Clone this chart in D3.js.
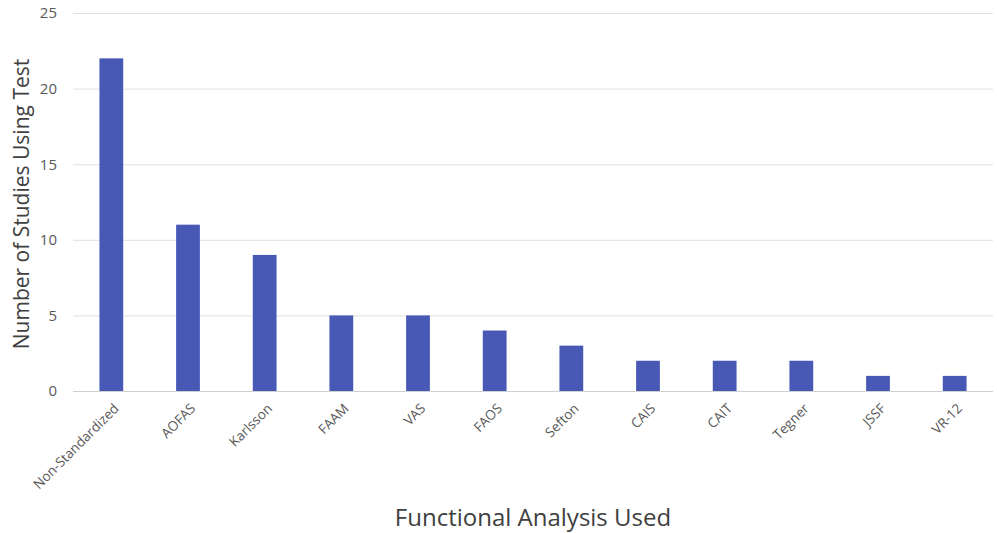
<!DOCTYPE html>
<html>
<head>
<meta charset="utf-8">
<script src="https://cdn.jsdelivr.net/npm/d3@7"></script>
<style>
  html, body { margin: 0; padding: 0; background: #fff; }
  svg { display: block; }
  svg text { font-family: "Open Sans", "Liberation Sans", sans-serif; }
</style>
</head>
<body>
<svg id="chart" width="997" height="533"></svg>
<script>
// Functional outcome measures and how many studies used each
const categories = ["Non-Standardized", "AOFAS", "Karlsson", "FAAM", "VAS", "FAOS", "Sefton", "CAIS", "CAIT", "Tegner", "JSSF", "VR-12"];
const studyCounts = [22, 11, 9, 5, 5, 4, 3, 2, 2, 2, 1, 1];
const yTicks = [0, 5, 10, 15, 20, 25];

const svg = d3.select("#chart");
const margin = { left: 73, right: 4, top: 13, bottom: 142 };
const W = 997, H = 533;
const FONT = '"Open Sans", "Liberation Sans", sans-serif';

const x = d3.scaleBand()
  .domain(categories)
  .range([margin.left, W - margin.right])
  .paddingInner(0.69)
  .paddingOuter(0.345);

const y = d3.scaleLinear()
  .domain([0, 25])
  .range([H - margin.bottom, margin.top]);

// Horizontal gridlines
svg.append("g")
  .selectAll("line")
  .data(yTicks)
  .join("line")
  .attr("x1", margin.left)
  .attr("x2", W - margin.right)
  .attr("y1", d => y(d) + 0.5)
  .attr("y2", d => y(d) + 0.5)
  .attr("stroke", d => d === 0 ? "#d0d0d0" : "#e0e0e0")
  .attr("stroke-width", 1);

// Y axis tick labels
const yAxis = svg.append("g")
  .attr("transform", `translate(${margin.left - 16},0)`)
  .call(d3.axisLeft(y).tickValues(yTicks).tickSize(0).tickPadding(0))
  .attr("font-family", FONT);
yAxis.select(".domain").remove();
yAxis.selectAll("text")
  .attr("fill", "#595959")
  .style("font-size", "15px");

// Bars
svg.append("g")
  .selectAll("rect")
  .data(categories)
  .join("rect")
  .attr("x", d => x(d))
  .attr("width", x.bandwidth())
  .attr("y", (d, i) => y(studyCounts[i]))
  .attr("height", (d, i) => y(0) - y(studyCounts[i]))
  .attr("fill", "#4858b5");

// X axis category labels, rotated
const xAxis = svg.append("g")
  .attr("transform", `translate(0,${y(0)})`)
  .call(d3.axisBottom(x).tickSize(0).tickPadding(0))
  .attr("font-family", FONT);
xAxis.select(".domain").remove();
xAxis.selectAll("text")
  .attr("fill", "#595959")
  .style("font-size", "13.5px")
  .attr("text-anchor", "end")
  .attr("y", 0)
  .attr("dy", "0.35em")
  .attr("transform", "translate(5,15) rotate(-45)");

// Axis titles
svg.append("text")
  .attr("transform", `translate(29,${(y(0) + y(25)) / 2 + 2}) rotate(-90)`)
  .attr("text-anchor", "middle")
  .attr("fill", "#404040")
  .style("font-size", "21px")
  .text("Number of Studies Using Test");

svg.append("text")
  .attr("x", 533)
  .attr("y", 526)
  .attr("text-anchor", "middle")
  .attr("fill", "#404040")
  .style("font-size", "24px")
  .text("Functional Analysis Used");
</script>
</body>
</html>
